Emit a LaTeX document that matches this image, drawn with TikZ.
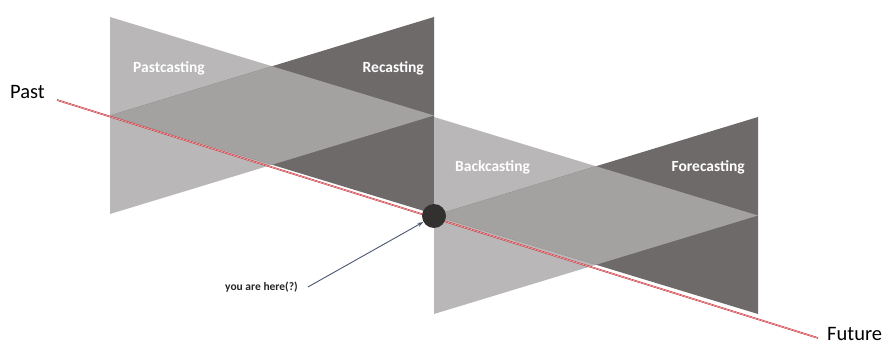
\documentclass[tikz,border=0pt]{standalone}
\usepackage{fontspec}
\setmainfont{Carlito}
\usetikzlibrary{arrows.meta}
\definecolor{castlight}{HTML}{B9B7B7}
\definecolor{castmid}{HTML}{A4A1A1}
\definecolor{castdark}{HTML}{6E6A6A}
\definecolor{timered}{HTML}{C8323A}
\definecolor{pointer}{HTML}{4A5570}
\definecolor{herefill}{HTML}{333030}
\begin{document}
\begin{tikzpicture}[x=10pt, y=-10pt]
\tikzstyle{every node}=[inner sep=0pt]
\tikzstyle{castlabel}=[text=white, font=\fontsize{15.5}{18}\selectfont\bfseries]
\tikzstyle{timelabel}=[font=\fontsize{20.5}{24}\selectfont]
\useasboundingbox (0,0) rectangle (88.8,34.7);
% two pairs of crossing triangles
\foreach \x/\y in {11/1.7, 43.4/11.7}{
  \fill[castlight] (\x,\y) -- (\x,\y+19.7) -- (\x+32.4,\y+9.85) -- cycle;
  \fill[castdark] (\x+32.4,\y) -- (\x+32.4,\y+19.7) -- (\x,\y+9.85) -- cycle;
  \fill[castmid] (\x,\y+9.85) -- (\x+16.2,\y+4.925) -- (\x+32.4,\y+9.85)
    -- (\x+16.2,\y+14.775) -- cycle;
}
\node[castlabel, anchor=west] (pastcast) at (13.3,6.8) {Pastcasting};
\node[castlabel, anchor=east] (recast) at (42.4,6.8) {Recasting};
\node[castlabel, anchor=west] (backcast) at (45.5,16.7) {Backcasting};
\node[castlabel, anchor=east] (forecast) at (74.5,16.7) {Forecasting};
% time line
\coordinate (pastend) at (5.7,10.0);
\coordinate (futureend) at (81.8,33.8);
\draw[timered, line width=0.6pt, double=white!85!red, double distance=0.4pt] (pastend) -- (futureend);
\node[timelabel, anchor=base west] (past) at (1.0,9.9) {Past};
\node[timelabel, anchor=base west] (future) at (82.7,34.0) {Future};
\node[circle, fill=herefill, minimum size=24pt] (here) at (43.4,21.6) {};
\node[anchor=west, text=black!85, font=\fontsize{11.5}{13}\selectfont\bfseries] (youhere) at (22.5,28.7) {you are here(?)};
\draw[pointer, line width=0.9pt, -{Stealth[length=6pt,width=4pt]}] ([xshift=10pt]youhere.east) -- (here);
\end{tikzpicture}
\end{document}
